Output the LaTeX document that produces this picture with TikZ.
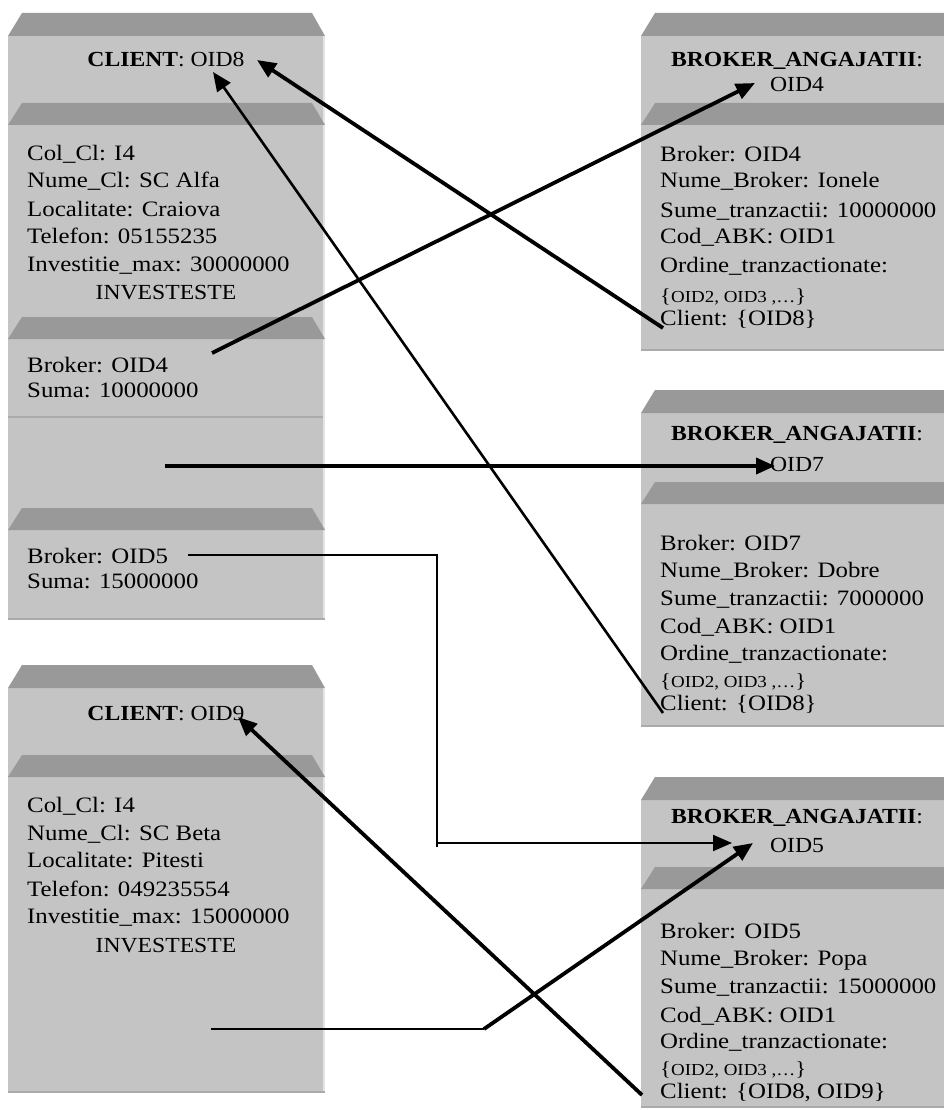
\documentclass[tikz,border=0pt]{standalone}
\usepackage{fontspec}
\setmainfont{Liberation Serif}[FakeStretch=1.1]
\newfontfamily\bodyfont{Liberation Serif}[FakeStretch=1.13]
\usetikzlibrary{arrows.meta}
\definecolor{bodygray}{HTML}{C4C4C4}
\definecolor{topgray}{HTML}{999999}
\definecolor{edgelight}{HTML}{E4E4E4}
\definecolor{edgedark}{HTML}{ABABAB}
\newcommand\objbox[4]{%
  \fill[bodygray] (#1,#2+23) rectangle (#3,#4);
  \fill[topgray] (#1,#2+23) -- (#1+14,#2) -- (#3-13,#2) -- (#3,#2+23) -- cycle;
  \draw[edgelight,line width=2pt] (#3-1,#2+23) -- (#3-1,#4);
  \draw[edgedark,line width=2pt] (#1,#4-1) -- (#3,#4-1);
}
\newcommand\secbar[3]{%
  \fill[topgray] (#1,#2+22) -- (#1+14,#2) -- (#3-13,#2) -- (#3,#2+22) -- cycle;
}
\tikzset{
  txt/.style={anchor=base west, inner sep=0pt, font=\bodyfont\fontsize{22}{22}\selectfont},
  ttl/.style={anchor=base, inner sep=0pt, font=\fontsize{21.5}{21.5}\selectfont},
  smalltxt/.style={anchor=base west, inner sep=0pt, font=\bodyfont\fontsize{16.8}{16.8}\selectfont},
  tip/.style={-{Triangle[length=19pt,width=16pt]}},
  heavy/.style={line width=3.8pt, tip},
  medium/.style={line width=2.6pt, tip},
  thin/.style={line width=2pt},
}
\newcommand\brc[1]{{\fontsize{20}{20}\selectfont\{}#1{\fontsize{20}{20}\selectfont\}}}
\begin{document}
\begin{tikzpicture}[x=1pt,y=-1pt]
\useasboundingbox (0,0) rectangle (944,1110);
\clip (0,0) rectangle (944,1110);
\fill[white] (0,0) rectangle (944,1110);

% ---------- boxes ----------
\objbox{8}{13}{325}{620}
\secbar{8}{103}{325}
\secbar{8}{317}{325}
\draw[edgedark,line width=1.5pt] (8,417) -- (323,417);
\secbar{8}{508}{325}

\objbox{8}{665}{325}{1093}
\secbar{8}{755}{325}

\objbox{641}{13}{958}{351}
\secbar{641}{103}{958}
\objbox{641}{390}{958}{727}
\secbar{641}{482}{958}
\objbox{641}{777}{958}{1108}
\secbar{641}{867}{958}

% ---------- CLIENT OID8 ----------
\node[ttl] (c1t) at (166,67) {\textbf{CLIENT}: OID8};
\node[txt] (c1a) at (27,161) {Col\_Cl: I4};
\node[txt] (c1b) at (27,188) {Nume\_Cl: SC Alfa};
\node[txt] (c1c) at (27,216) {Localitate: Craiova};
\node[txt] (c1d) at (27,243) {Telefon: 05155235};
\node[txt] (c1e) at (27,271) {Investitie\_max: 30000000};
\node[ttl] (c1f) at (166,299) {INVESTESTE};
\node[txt] (c1g) at (27,372) {Broker: OID4};
\node[txt] (c1h) at (27,397) {Suma: 10000000};
\node[txt] (c1i) at (27,563) {Broker: OID5};
\node[txt] (c1j) at (27,588) {Suma: 15000000};

% ---------- CLIENT OID9 ----------
\node[ttl] (c2t) at (166,720) {\textbf{CLIENT}: OID9};
\node[txt] (c2a) at (27,812) {Col\_Cl: I4};
\node[txt] (c2b) at (27,840) {Nume\_Cl: SC Beta};
\node[txt] (c2c) at (27,867) {Localitate: Pitesti};
\node[txt] (c2d) at (27,896) {Telefon: 049235554};
\node[txt] (c2e) at (27,923) {Investitie\_max: 15000000};
\node[ttl] (c2f) at (166,952) {INVESTESTE};

% ---------- BROKER OID4 ----------
\node[ttl] (b1t) at (797,67) {\textbf{BROKER\_ANGAJATII}:};
\node[ttl] (b1o) at (797,92) {OID4};
\node[txt] (b1a) at (660,162) {Broker: OID4};
\node[txt] (b1b) at (660,188) {Nume\_Broker: Ionele};
\node[txt] (b1c) at (660,217) {Sume\_tranzactii: 10000000};
\node[txt] (b1d) at (660,243) {Cod\_ABK: OID1};
\node[txt] (b1e) at (660,272) {Ordine\_tranzactionate:};
\node[smalltxt] (b1f) at (660,302) {\brc{OID2, OID3 ,…}};
\node[txt] (b1g) at (660,325) {Client: \{OID8\}};

% ---------- BROKER OID7 ----------
\node[ttl] (b2t) at (797,440) {\textbf{BROKER\_ANGAJATII}:};
\node[ttl] (b2o) at (797,471) {OID7};
\node[txt] (b2a) at (660,550) {Broker: OID7};
\node[txt] (b2b) at (660,577) {Nume\_Broker: Dobre};
\node[txt] (b2c) at (660,605) {Sume\_tranzactii: 7000000};
\node[txt] (b2d) at (660,633) {Cod\_ABK: OID1};
\node[txt] (b2e) at (660,660) {Ordine\_tranzactionate:};
\node[smalltxt] (b2f) at (660,687) {\brc{OID2, OID3 ,…}};
\node[txt] (b2g) at (660,710) {Client: \{OID8\}};

% ---------- BROKER OID5 ----------
\node[ttl] (b3t) at (797,823) {\textbf{BROKER\_ANGAJATII}:};
\node[ttl] (b3o) at (797,852) {OID5};
\node[txt] (b3a) at (660,938) {Broker: OID5};
\node[txt] (b3b) at (660,965) {Nume\_Broker: Popa};
\node[txt] (b3c) at (660,993) {Sume\_tranzactii: 15000000};
\node[txt] (b3d) at (660,1022) {Cod\_ABK: OID1};
\node[txt] (b3e) at (660,1048) {Ordine\_tranzactionate:};
\node[smalltxt] (b3f) at (660,1075) {\brc{OID2, OID3 ,…}};
\node[txt] (b3g) at (660,1098) {Client: \{OID8, OID9\}};

% ---------- connector end points ----------
\coordinate (a1) at (663,328);  \coordinate (a2) at (257,60);
\coordinate (bb1) at (663,713); \coordinate (bb2) at (213,72);
\coordinate (cc1) at (212,353); \coordinate (cc2) at (755,83);
\coordinate (d1) at (165,466);  \coordinate (d2) at (775,466);
\coordinate (e1) at (188,555);  \coordinate (e2) at (437,847);
\coordinate (e3) at (437,843);  \coordinate (e4) at (732,843);
\coordinate (f1) at (211,1029); \coordinate (f2) at (484,1029);
\coordinate (f3) at (753,843);
\coordinate (g1) at (642,1095); \coordinate (g2) at (238,717);

% ---------- connectors ----------
\draw[heavy] (a1) -- (a2);
\draw[medium] (bb1) -- (bb2);
\draw[heavy] (cc1) -- (cc2);
\draw[heavy] (d1) -- (d2);
\draw[thin] (e1) -| (e2);
\draw[thin, tip] (e3) -- (e4);
\draw[thin] (f1) -- (f2);
\draw[heavy] (f2) -- (f3);
\draw[heavy] (g1) -- (g2);
\end{tikzpicture}
\end{document}
